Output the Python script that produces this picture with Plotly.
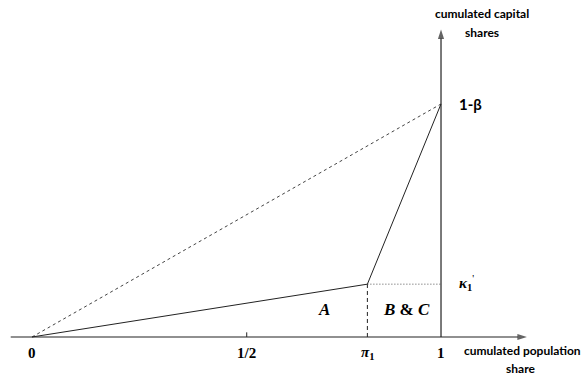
import plotly.graph_objects as go

# valores lidos do diagrama (escala aproximada, não proporcional)
pi_1 = 0.82
kappa_1 = 0.17
um_menos_beta = 0.75
meio = 0.525  # posição desenhada do tick 1/2

curva_x = [0, pi_1, 1]
curva_y = [0, kappa_1, um_menos_beta]
diag_x = [0, 1]
diag_y = [0, um_menos_beta]

ticks_x = [0, meio, pi_1, 1]
ticks_txt = ["0", "1/2", "<i>π</i><sub>1</sub>", "1"]

ESCURO = "#222222"
SERIF = "Liberation Serif"
SANS = "Lato"

fig = go.Figure()

# eixos com seta (marcador "arrow" orientado pelo segmento anterior)
seta = dict(symbol=["circle", "arrow"], size=[0, 10], color=ESCURO,
            angleref="previous", line=dict(width=0))
fig.add_trace(go.Scatter(x=[-0.052, 1.21], y=[0, 0], mode="lines+markers",
                         line=dict(color=ESCURO, width=1.2), marker=seta,
                         hoverinfo="skip"))
fig.add_trace(go.Scatter(x=[1, 1], y=[0, 0.99], mode="lines+markers",
                         line=dict(color=ESCURO, width=1.2), marker=seta,
                         hoverinfo="skip"))

# diagonal tracejada até 1-β
fig.add_trace(go.Scatter(x=diag_x, y=diag_y, mode="lines",
                         line=dict(color="#444444", width=1, dash="3px,3px"),
                         hoverinfo="skip"))
# curva de Lorenz (sólida)
fig.add_trace(go.Scatter(x=curva_x, y=curva_y, mode="lines",
                         line=dict(color=ESCURO, width=1), hoverinfo="skip"))
# pontilhado horizontal em kappa_1
fig.add_trace(go.Scatter(x=[pi_1, 1], y=[kappa_1, kappa_1], mode="lines",
                         line=dict(color="#555555", width=1, dash="1px,2px"),
                         hoverinfo="skip"))
# tracejado vertical em pi_1
fig.add_trace(go.Scatter(x=[pi_1, pi_1], y=[0, kappa_1], mode="lines",
                         line=dict(color=ESCURO, width=1, dash="4px,3px"),
                         hoverinfo="skip"))

# tick em 1/2
fig.add_shape(type="line", x0=meio, x1=meio, y0=0, y1=0.015,
              line=dict(color=ESCURO, width=1))

# rótulos do eixo x
for xv, txt in zip(ticks_x, ticks_txt):
    fig.add_annotation(x=xv, y=-0.05, text=f"<b>{txt}</b>", showarrow=False,
                       font=dict(family=SERIF, size=15, color="black"))

# rótulos do eixo y
fig.add_annotation(x=1.04, y=um_menos_beta, text="<b>1-β</b>", showarrow=False,
                   xanchor="left", font=dict(family=SANS, size=15, color="black"))
fig.add_annotation(x=1.04, y=kappa_1 + 0.005, text="<b><i>κ</i><sub>1</sub></b><sup>'</sup>",
                   showarrow=False, xanchor="left",
                   font=dict(family=SERIF, size=15, color="black"))

# áreas
fig.add_annotation(x=0.715, y=0.087, text="<b><i>A</i></b>", showarrow=False,
                   font=dict(family=SERIF, size=17, color="black"))
fig.add_annotation(x=0.915, y=0.087, text="<b><i>B</i> &amp; <i>C</i></b>",
                   showarrow=False, font=dict(family=SERIF, size=17, color="black"))

# títulos dos eixos
fig.add_annotation(x=1.2, y=-0.045, text="<b>cumulated population</b>",
                   showarrow=False, font=dict(family=SANS, size=12, color="black"))
fig.add_annotation(x=1.195, y=-0.1, text="<b>share</b>",
                   showarrow=False, font=dict(family=SANS, size=12, color="black"))
fig.add_annotation(x=1.1, y=1.042, text="<b>cumulated capital</b>",
                   showarrow=False, font=dict(family=SANS, size=12, color="black"))
fig.add_annotation(x=1.1, y=0.98, text="<b>shares</b>",
                   showarrow=False, font=dict(family=SANS, size=12, color="black"))

fig.update_layout(
    width=584, height=379,
    margin=dict(l=0, r=0, t=0, b=0),
    paper_bgcolor="white", plot_bgcolor="white",
    showlegend=False,
    xaxis=dict(range=[-0.0782, 1.3496], visible=False, fixedrange=True),
    yaxis=dict(range=[-0.1352, 1.0846], visible=False, fixedrange=True),
)

# tira a margem padrão do body para a figura ocupar a janela toda
fig.write_html("out.html", config={"displayModeBar": False},
               post_script="document.body.style.margin='0';document.body.style.overflow='hidden';")
